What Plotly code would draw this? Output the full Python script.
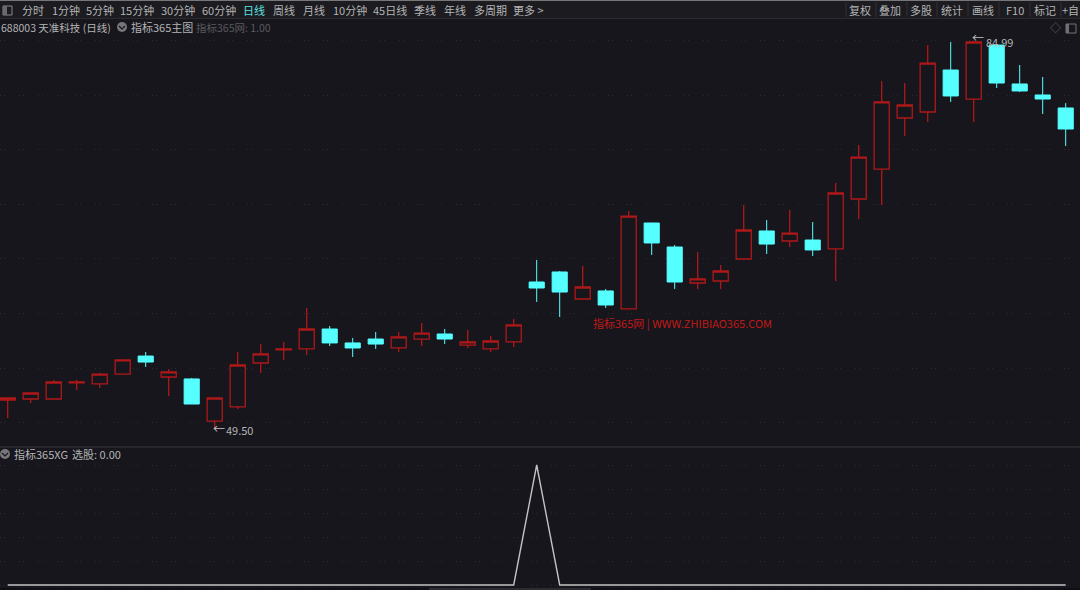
import plotly.graph_objects as go

# candle index, one per trading day
days = list(range(47))
opens = [52.07,52.16,52.16,53.63,53.54,54.45,56.10,54.18,54.00,50.14,51.43,55.46,56.66,56.75,58.58,57.30,57.66,56.84,57.66,58.12,57.11,56.75,57.39,62.89,63.81,61.33,62.07,60.42,68.30,66.10,62.80,62.98,65.00,67.57,66.65,66.74,65.92,70.50,73.25,77.93,78.48,82.33,79.67,84.62,81.05,80.04,78.85]
highs = [52.25,52.71,53.90,53.90,54.55,55.74,56.47,54.91,54.09,52.25,56.47,57.20,57.39,60.51,58.86,57.76,58.31,58.31,59.13,58.58,58.49,57.94,59.50,64.91,63.90,64.36,62.25,69.40,68.30,66.28,65.64,64.45,69.95,68.58,69.49,68.39,71.97,75.45,81.32,81.14,84.62,84.90,84.99,84.62,82.79,81.69,79.30]
lows = [50.42,51.79,52.16,52.99,53.17,54.45,55.10,52.44,51.70,49.50,51.25,54.55,55.74,56.20,57.02,56.01,56.75,56.47,57.02,57.20,56.84,56.47,56.93,61.06,59.68,61.33,60.51,60.42,65.37,62.25,62.25,62.25,65.00,65.46,66.10,65.27,62.98,68.67,69.95,76.28,77.56,79.40,77.56,80.68,80.31,78.30,75.36]
closes = [52.25,52.71,53.72,53.72,54.45,55.74,55.55,54.64,51.70,52.25,55.28,56.29,56.75,58.58,57.30,56.84,57.20,57.85,58.21,57.66,57.39,57.48,58.95,62.34,61.97,62.43,60.78,68.94,66.47,62.89,63.17,63.90,67.66,66.37,67.38,65.83,71.05,74.35,79.40,79.12,82.97,79.95,84.90,81.14,80.41,79.67,76.92]
xg_values = [0]*23 + [1] + [0]*23

toolbar_left = [("分时",33),("1分钟",66),("5分钟",100),("15分钟",137),("30分钟",178),("60分钟",219),("日线",254),("周线",284),("月线",314),("10分钟",350),("45日线",390),("季线",425),("年线",455),("多周期",490),("更多 >",528)]
toolbar_right = [("复权",860),("叠加",890),("多股",921),("统计",952),("画线",983),("F10",1015),("标记",1045),("+自",1070)]
separators = [846,876,907,937,968,999,1030,1061]

W, H = 1080, 590
BG = "#16161c"
BAR = "#1b1b20"
TXT = "#b4b4b4"
RED = "#b01818"
CYAN = "#55ffff"
FONT = "Noto Sans CJK SC, Liberation Sans, sans-serif"

fig = go.Figure()
fig.add_trace(go.Candlestick(
    x=days, open=opens, high=highs, low=lows, close=closes,
    increasing=dict(line=dict(color=RED, width=1.3), fillcolor=BG),
    decreasing=dict(line=dict(color=CYAN, width=1), fillcolor=CYAN),
    whiskerwidth=0, xaxis="x", yaxis="y", hoverinfo="skip", showlegend=False))
fig.add_trace(go.Scatter(
    x=days, y=xg_values, mode="lines", line=dict(color="#c4c4c4", width=1.4),
    xaxis="x2", yaxis="y2", hoverinfo="skip", showlegend=False))

def px_x(p): return p / W
def px_y(p): return 1 - p / H

ann = []
def label(text, x, y, size=11, color=TXT, anchor="center"):
    ann.append(dict(text=text, x=px_x(x), y=px_y(y), xref="paper", yref="paper",
                    xanchor=anchor, yanchor="middle", showarrow=False,
                    font=dict(family=FONT, size=size, color=color)))

for t, x in toolbar_left:
    label(t, x, 10, color="#5fe0e0" if t == "日线" else TXT)
for t, x in toolbar_right:
    label(t, x, 10)
label("688003 天准科技 (日线)", -1, 27, anchor="left", size=10.5)
label("指标365主图", 129, 27, anchor="left")
label("指标365网: 1.00", 194, 27, anchor="left", color="#5a5a5e", size=10.5)
label("指标365XG", 12, 454, anchor="left")
label("选股: 0.00", 70, 454, anchor="left")
label("←", 219, 428, size=12, color="#c0c0c0")
label("49.50", 224, 430, anchor="left", size=11)
label("←", 978, 38, size=12, color="#c0c0c0")
label("84.99", 984, 42, anchor="left", size=11)
label("指标365网 | WWW.ZHIBIAO365.COM", 591, 323, anchor="left", size=11, color="#c01818")
label("◇", 1055, 27, size=11, color="#707074")

def chevron(cx, cy):
    return dict(type="path", xref="paper", yref="paper",
                path=f"M {px_x(cx-3)} {px_y(cy-1)} L {px_x(cx)} {px_y(cy+2)} L {px_x(cx+3)} {px_y(cy-1)}",
                line=dict(color=BG, width=1.2))

shapes = [
    dict(type="rect", xref="paper", yref="paper", x0=0, x1=1, y0=px_y(18), y1=1, fillcolor=BAR, line_width=0, layer="below"),
    dict(type="line", xref="paper", yref="paper", x0=0, x1=1, y0=px_y(0.5), y1=px_y(0.5), line=dict(color="#77777a", width=1)),
    dict(type="line", xref="paper", yref="paper", x0=0, x1=1, y0=px_y(18.5), y1=px_y(18.5), line=dict(color="#2c2c30", width=1)),
    dict(type="line", xref="paper", yref="paper", x0=0, x1=1, y0=px_y(447), y1=px_y(447), line=dict(color="#38383c", width=1)),
    dict(type="rect", xref="paper", yref="paper", x0=px_x(3), x1=px_x(12), y0=px_y(15), y1=px_y(6), line=dict(color="#8a8a8a", width=1), fillcolor="rgba(0,0,0,0)"),
    dict(type="rect", xref="paper", yref="paper", x0=px_x(3), x1=px_x(7), y0=px_y(15), y1=px_y(6), line_width=0, fillcolor="#6a6a6e"),
    dict(type="rect", xref="paper", yref="paper", x0=px_x(1066), x1=px_x(1076), y0=px_y(33), y1=px_y(24), line=dict(color="#707074", width=1), fillcolor="rgba(0,0,0,0)"),
    dict(type="rect", xref="paper", yref="paper", x0=px_x(1066), x1=px_x(1069), y0=px_y(33), y1=px_y(24), line_width=0, fillcolor="#707074"),
    dict(type="circle", xref="paper", yref="paper", x0=px_x(117), x1=px_x(127), y0=px_y(32), y1=px_y(22), line_width=0, fillcolor="#77777b"),
    dict(type="circle", xref="paper", yref="paper", x0=px_x(0), x1=px_x(10), y0=px_y(459), y1=px_y(449), line_width=0, fillcolor="#77777b"),
    chevron(122, 27), chevron(5, 454),
    dict(type="rect", xref="paper", yref="paper", x0=0, x1=1, y0=0, y1=px_y(588), fillcolor="#101014", line_width=0),
    dict(type="rect", xref="paper", yref="paper", x0=px_x(429), x1=px_x(591), y0=0, y1=px_y(588), fillcolor="#2c2c30", line_width=0),
]
for s in separators:
    shapes.append(dict(type="line", xref="paper", yref="paper", x0=px_x(s), x1=px_x(s), y0=px_y(17), y1=px_y(2), line=dict(color="#303034", width=1)))

grid = dict(showgrid=True, griddash="1px,3px,1px,14px", gridcolor="#2b2b31", gridwidth=1, zeroline=False,
            showticklabels=False, ticks="", showline=False)
xr = [-7.7/23, (W-7.7)/23]
fig.update_layout(
    width=W, height=H, margin=dict(l=0, r=0, t=0, b=0), autosize=False,
    paper_bgcolor=BG, plot_bgcolor="rgba(0,0,0,0)", showlegend=False, boxgap=0.06,
    xaxis=dict(domain=[0,1], range=xr, showgrid=False, zeroline=False, showticklabels=False, ticks="", rangeslider=dict(visible=False), anchor="y"),
    xaxis2=dict(domain=[0,1], range=xr, showgrid=False, zeroline=False, showticklabels=False, ticks="", anchor="y2"),
    yaxis=dict(domain=[px_y(446), px_y(36)], range=[47.85, 85.45], dtick=5, tick0=0, anchor="x", **grid),
    yaxis2=dict(domain=[0, px_y(448)], range=[-0.0417, 1.1417], dtick=0.2, tick0=0, anchor="x2", **grid),
    annotations=ann, shapes=shapes)
fig.write_html("out.html", config=dict(displayModeBar=False),
               post_script="document.body.style.margin='0';document.body.style.overflow='hidden';document.body.style.background='#16161c';")
